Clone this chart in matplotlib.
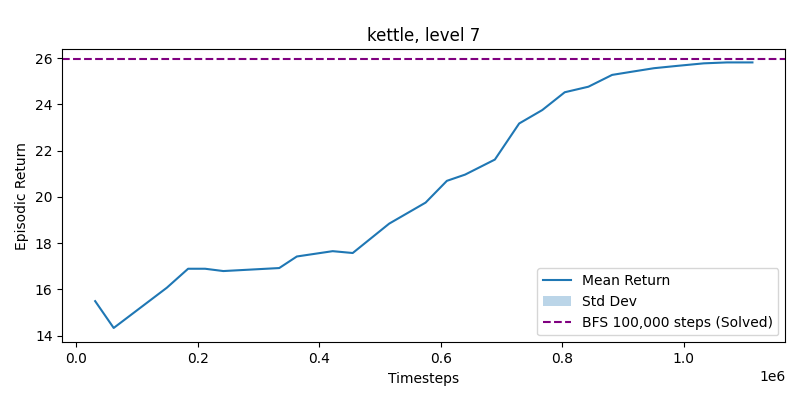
import matplotlib
matplotlib.use("Agg")
import matplotlib.pyplot as plt
import numpy as np

timesteps = [0.031, 0.0615, 0.149, 0.184, 0.212, 0.242, 0.334, 0.363, 0.422, 0.455,
             0.515, 0.575, 0.610, 0.640, 0.689, 0.729, 0.767, 0.804, 0.843, 0.882,
             0.915, 0.951, 0.989, 1.033, 1.071, 1.113]
mean_return = [15.49, 14.33, 16.07, 16.89, 16.89, 16.79, 16.92, 17.42, 17.65, 17.57,
               18.84, 19.75, 20.69, 20.96, 21.61, 23.17, 23.75, 24.52, 24.76, 25.27,
               25.41, 25.56, 25.66, 25.77, 25.81, 25.81]
std_dev = [0.0] * len(mean_return)
bfs_value = 25.94

x = np.array(timesteps) * 1e6
m = np.array(mean_return)
s = np.array(std_dev)

fig, ax = plt.subplots(figsize=(8, 4), dpi=100)
fig.subplots_adjust(left=62.3 / 800, right=785.3 / 800, bottom=1 - 342.3 / 400, top=1 - 49 / 400)
ax.plot(x, m, color="#1f77b4", label="Mean Return")
ax.fill_between(x, m - s, m + s, color="#1f77b4", alpha=0.3, linewidth=0, label="Std Dev")
ax.axhline(bfs_value, color="purple", linestyle="--", label="BFS 100,000 steps (Solved)")
ax.set_ylim(13.71, 26.39)
ax.set_xlabel("Timesteps")
ax.set_ylabel("Episodic Return")
ax.set_title("kettle, level 7")
ax.legend(loc="lower right")
fig.savefig("out.png", dpi=100)
